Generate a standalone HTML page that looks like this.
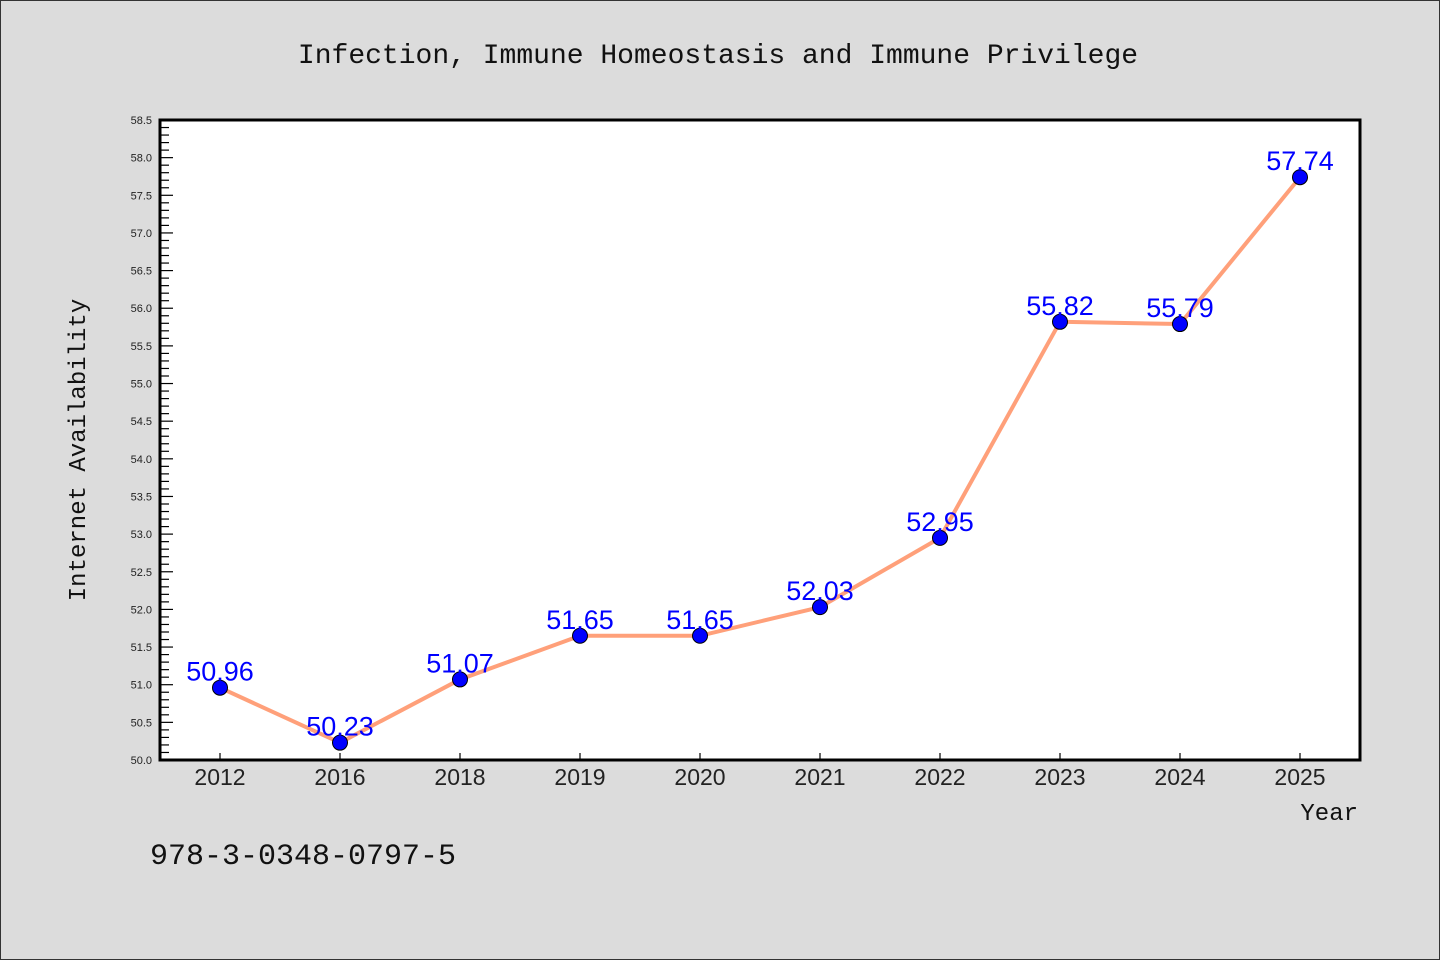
<!DOCTYPE html>
<html><head><meta charset="utf-8"><style>
html,body{margin:0;padding:0;background:#dcdcdc;}
svg{display:block;}
</style></head><body>
<svg id="chart" width="1440" height="960" xmlns="http://www.w3.org/2000/svg">
<rect x="0.5" y="0.5" width="1439" height="959" fill="#dcdcdc" stroke="#333"/>
<text x="718" y="63" text-anchor="middle" font-family="Liberation Mono, monospace" font-size="28" fill="#111">Infection, Immune Homeostasis and Immune Privilege</text>
<rect x="160" y="120" width="1200" height="640" fill="#fff"/>
<g id="yaxis"></g>
<g id="xaxis"></g>
<g id="series"></g>
<rect x="160" y="120" width="1200" height="640" fill="none" stroke="#000" stroke-width="3"/>
<text transform="translate(85,450) rotate(-90)" text-anchor="middle" font-family="Liberation Mono, monospace" font-size="24" fill="#111">Internet Availability</text>
<text x="1358" y="820" text-anchor="end" font-family="Liberation Mono, monospace" font-size="24" fill="#111">Year</text>
<text x="150" y="864" font-family="Liberation Mono, monospace" font-size="30" fill="#111">978-3-0348-0797-5</text>
</svg>
<script>
const categories = ["2012","2016","2018","2019","2020","2021","2022","2023","2024","2025"];
const values = [50.96, 50.23, 51.07, 51.65, 51.65, 52.03, 52.95, 55.82, 55.79, 57.74];
const valueLabels = ["50.96","50.23","51.07","51.65","51.65","52.03","52.95","55.82","55.79","57.74"];
const yMin = 50.0, yMax = 58.5;
const NS = "http://www.w3.org/2000/svg";
const L=160,R=1360,T=120,B=760;
function yS(v){return B-(v-yMin)/(yMax-yMin)*(B-T);}
function xS(i){const w=(R-L)/categories.length;return L+w*(i+0.5);}
function mk(tag,attrs,parent){const e=document.createElementNS(NS,tag);for(const k in attrs)e.setAttribute(k,attrs[k]);parent.appendChild(e);return e;}
const ya=document.getElementById('yaxis'),xa=document.getElementById('xaxis'),sg=document.getElementById('series');
for(let k=0;k<=Math.round((yMax-yMin)*10);k++){
  const v=yMin+k/10;const y=yS(v);const major=k%5===0;
  const t=mk('line',{x1:L,x2:L+(major?13:9),y1:y,y2:y,stroke:'#000','stroke-width':1.2},ya);
  
  
  if(major){
    const tx=mk('text',{x:L-8,y:y+4,'text-anchor':'end','font-family':'Liberation Sans, sans-serif','font-size':11,fill:'#222'},ya);
    tx.textContent=v.toFixed(1);
    
    
  }
}
categories.forEach((c,i)=>{
  const x=xS(i);
  const t=mk('line',{x1:x,x2:x,y1:B,y2:B-7,stroke:'#000','stroke-width':1.2},xa);
  
  
  const tx=mk('text',{x:x,y:B+25,'text-anchor':'middle','font-family':'Liberation Sans, sans-serif','font-size':23,fill:'#222'},xa);
  tx.textContent=c;
  
  
});
const pts=values.map((v,i)=>xS(i)+','+yS(v)).join(' ');
const pl=mk('polyline',{points:pts,fill:'none',stroke:'#ffa07a','stroke-width':4,'stroke-linejoin':'round'},sg);


values.forEach((v,i)=>{
  const c=mk('circle',{cx:xS(i),cy:yS(v),r:7.5,fill:'#0000ff',stroke:'#000','stroke-width':1},sg);
  
  
});
values.forEach((v,i)=>{
  const t=mk('text',{x:xS(i),y:yS(v)-7,'text-anchor':'middle','font-family':'Liberation Sans, sans-serif','font-size':27,fill:'#0000ff'},sg);
  t.textContent=valueLabels[i];
  
  
});
</script>
</body></html>
